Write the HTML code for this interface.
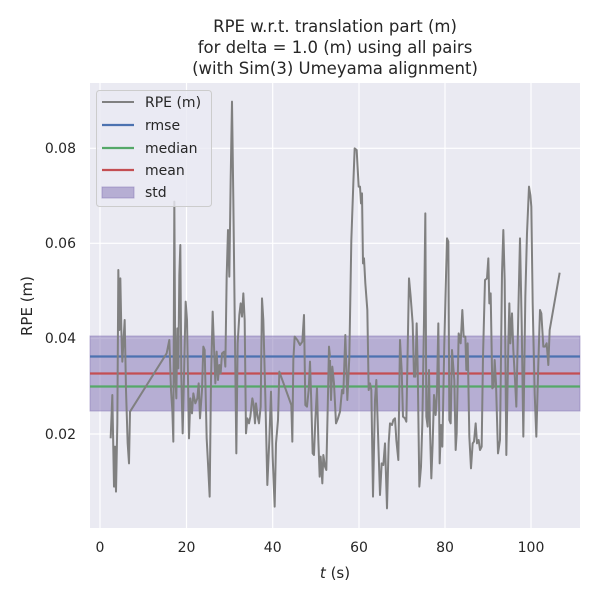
<!DOCTYPE html>
<html><head><meta charset="utf-8"><style>
body{margin:0;background:#fff}
svg{display:block;font-family:"DejaVu Sans","Liberation Sans",sans-serif}
</style></head><body>
<svg width="600" height="600" viewBox="0 0 600 600">
<rect width="600" height="600" fill="#fff"/>
<rect x="90" y="83" width="490" height="445" fill="#eaeaf2"/>
<g stroke="#fff" stroke-width="1.2">
<line x1="100" y1="83" x2="100" y2="528"/><line x1="186.5" y1="83" x2="186.5" y2="528"/><line x1="272.7" y1="83" x2="272.7" y2="528"/><line x1="359" y1="83" x2="359" y2="528"/><line x1="445" y1="83" x2="445" y2="528"/><line x1="531" y1="83" x2="531" y2="528"/>
<line x1="90" y1="148.3" x2="580" y2="148.3"/><line x1="90" y1="243.3" x2="580" y2="243.3"/><line x1="90" y1="338.5" x2="580" y2="338.5"/><line x1="90" y1="434" x2="580" y2="434"/>
</g>
<rect x="90" y="336" width="490" height="75" fill="#8172b3" fill-opacity="0.5" stroke="#8172b3" stroke-opacity="0.5"/>
<line x1="90" y1="356.5" x2="580" y2="356.5" stroke="#4c72b0" stroke-width="2.2"/>
<line x1="90" y1="373.5" x2="580" y2="373.5" stroke="#c44e52" stroke-width="2.2"/>
<line x1="90" y1="386.5" x2="580" y2="386.5" stroke="#55a868" stroke-width="2.2"/>
<g fill="none" stroke="#808080" stroke-width="2" stroke-linejoin="round">
<polyline vector-effect="non-scaling-stroke" transform="translate(90,90) scale(0.33333)" points="62,1045 67,915 72,1190 75,1070 78,1205 82,1000 85,540 88,720 91,565 94,720 97,815 104,690 108,900 113,1060 117,1120 120,965 230,790 238,750 243,900 247,960 250,1055 253,335 256,860 259,925 262,715 265,835 268,555 271,465 274,860 278,1030 282,860 287,635 291,690 297,1045 301,925 306,970 310,910 316,940 322,925 326,880 330,985 336,900 340,770 344,780 350,1045 354,1120 359,1220 363,870 368,665 372,770 376,880 380,785 384,870 388,825 392,850 396,790 402,785 406,830 410,560 414,420 418,560 422,270 426,35 430,330 434,670 439,1090 443,760 448,675 452,640 456,680 460,610 464,690 468,1030 472,985 477,1000 481,980 487,925 491,945 495,1000 498,940 503,980 507,1000 512,950 516,625 520,690 526,920 532,1185 538,1050 543,905 548,1100 554,1250 558,1060 564,990 568,845 604,945 607,1055 610,810 614,740 622,750 630,765 637,755 642,675 646,945 651,950 656,900 660,815 664,940 668,1090 672,1095 676,990 681,895 685,1050 689,1160 692,1100 697,1180 700,1095 705,1130 709,1140 713,960 717,770 720,800"/>
<polyline vector-effect="non-scaling-stroke" transform="translate(330,90) scale(0.33333)" points="0,810 3,930 7,830 12,880 18,1000 24,985 30,965 36,900 40,910 46,735 52,930 58,800 64,450 70,280 74,175 80,180 86,290 90,290 93,340 96,310 99,520 102,505 106,580 112,660 116,900 120,880 124,900 129,1220 135,930 139,870 145,1060 150,1215 155,1120 160,1125 165,1060 171,1255 176,1060 180,1000 186,1005 190,990 195,985 199,1050 205,1110 210,750 215,840 219,980 225,985 229,995 233,780 237,565 242,620 248,700 252,860 256,860 260,700 263,830 268,1190 273,1130 277,1000 282,690 286,370 289,980 293,1010 297,840 300,1015 304,1165 308,1060 312,915 317,975 321,905 325,700 329,1120 333,1005 337,1070 343,760 348,560 351,445 355,455 358,990 362,1000 366,780 373,870 377,1080 380,1030 386,730 392,760 397,660 401,740 406,740 409,840 413,760 418,1040 423,1135 428,1060 432,1055 437,1000 441,1060 446,1050 450,1080 455,1070 459,800 465,570 471,565 475,505 478,640 482,610 487,895 491,890 494,810 498,880 504,1090 510,1050 516,550 520,420 524,570 529,1095 535,760 538,640 541,760 546,670 550,780 555,870 559,950 566,620 570,445 575,700 580,1040 586,620 591,430 597,290 601,315 604,350 608,640 614,910 619,1040 625,820 630,660 634,670 640,770 645,770 650,760 655,825 659,720 689,548"/>
</g>
<rect x="96.5" y="90.5" width="115" height="116" rx="3" fill="#eaeaf2" fill-opacity="0.8" stroke="#cccccc"/>
<line x1="102" y1="102" x2="134" y2="102" stroke="#808080" stroke-width="2"/>
<line x1="102" y1="125" x2="134" y2="125" stroke="#4c72b0" stroke-width="2.2"/>
<line x1="102" y1="148" x2="134" y2="148" stroke="#55a868" stroke-width="2.2"/>
<line x1="102" y1="170" x2="134" y2="170" stroke="#c44e52" stroke-width="2.2"/>
<rect x="102" y="187" width="32" height="11" fill="#8172b3" fill-opacity="0.5" stroke="#8172b3" stroke-opacity="0.5"/>
<g font-size="14" fill="#262626">
<text x="145" y="107">RPE (m)</text><text x="145" y="130">rmse</text><text x="145" y="153">median</text><text x="145" y="175">mean</text><text x="145" y="197">std</text>
</g>
<g font-size="14" fill="#262626" text-anchor="end">
<text x="76" y="153">0.08</text><text x="76" y="248">0.06</text><text x="76" y="343">0.04</text><text x="76" y="439">0.02</text>
</g>
<g font-size="14" fill="#262626" text-anchor="middle">
<text x="100" y="552">0</text><text x="186.5" y="552">20</text><text x="272.7" y="552">40</text><text x="359" y="552">60</text><text x="445" y="552">80</text><text x="531" y="552">100</text>
<text x="335" y="578" font-size="15"><tspan font-style="italic">t</tspan> (s)</text>
<text x="335" y="32" font-size="16.5">RPE w.r.t. translation part (m)</text>
<text x="335" y="53" font-size="16.5">for delta = 1.0 (m) using all pairs</text>
<text x="335" y="74" font-size="16.5">(with Sim(3) Umeyama alignment)</text>
<text transform="translate(32,306) rotate(-90)" font-size="15">RPE (m)</text>
</g>
</svg>
</body></html>
